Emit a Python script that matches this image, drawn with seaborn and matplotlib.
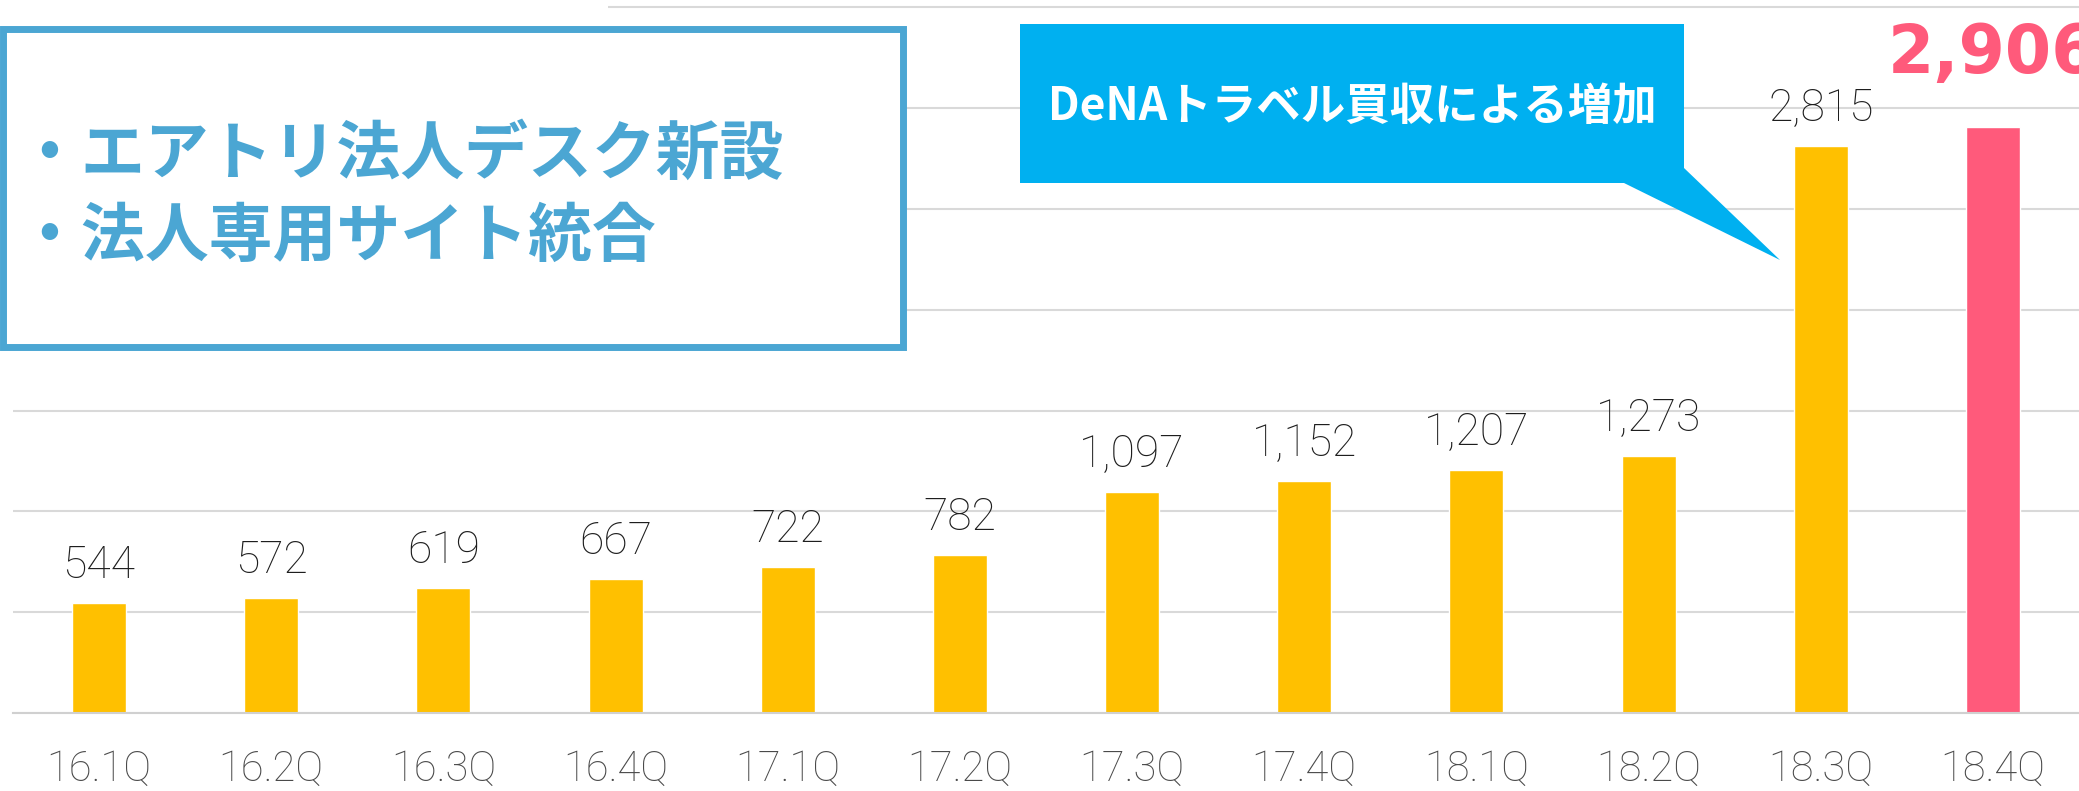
import numpy as np
import pandas as pd
import matplotlib
matplotlib.use("Agg")
import matplotlib.pyplot as plt
from matplotlib.patches import Rectangle, Polygon
import seaborn as sns

quarters = ["16.1Q", "16.2Q", "16.3Q", "16.4Q", "17.1Q", "17.2Q",
            "17.3Q", "17.4Q", "18.1Q", "18.2Q", "18.3Q", "18.4Q"]
users = [544, 572, 619, 667, 722, 782, 1097, 1152, 1207, 1273, 2815, 2906]
bar_colors = ["#FFC000"] * 11 + ["#FF5A7B"]
box_lines = ["・エアトリ法人デスク新設", "・法人専用サイト統合"]
callout_text = "DeNAトラベル買収による増加"

sns.set_theme(style="white")
plt.rcParams['font.family'] = ['Noto Sans CJK JP', 'DejaVu Sans']

W, H = 2079, 791
fig = plt.figure(figsize=(W / 100, H / 100), dpi=100)
fig.patch.set_facecolor("white")
ax = fig.add_axes([13 / W, 78 / H, 1 - 13 / W, 713 / H])

df = pd.DataFrame({"quarter": quarters, "users": users})
sns.barplot(data=df, x="quarter", y="users", hue="quarter",
            palette=dict(zip(quarters, bar_colors)), dodge=False,
            width=0.314, saturation=1, legend=False, ax=ax)

ax.set_xlim(-0.5, 11.5)
ax.set_ylim(0, 3537)
ax.set_yticks(np.arange(0, 3501, 500))
ax.yaxis.grid(True, color="#D9D9D9", lw=1.5)
ax.xaxis.grid(False)
ax.set_axisbelow(True)
ax.set_xlabel("")
ax.set_ylabel("")
for s in ["left", "top", "right"]:
    ax.spines[s].set_visible(False)
ax.spines["bottom"].set_color("#D0D0D0")
ax.spines["bottom"].set_linewidth(1.5)
ax.tick_params(axis="y", length=0, labelleft=False)
ax.set_xticks(range(len(quarters)))
ax.set_xticklabels(quarters, fontsize=30, color="#4A4A4A",
                   family=["Roboto", "DejaVu Sans"], fontweight="light")
ax.tick_params(axis="x", which="major", length=0, pad=26)
ax.set_xticks(np.arange(-0.5, len(quarters), 1), minor=True)
ax.tick_params(axis="x", which="minor", length=11, width=1.5,
               color="#D0D0D0", direction="out")

for i, v in enumerate(users[:-1]):
    ax.annotate(f"{v:,}", (i, v), xytext=(0, 18), textcoords="offset points",
                ha="center", va="baseline", fontsize=32, color="#1E1E1E",
                family=["Roboto", "DejaVu Sans"], fontweight="light")
ax.annotate(f"{users[-1]:,}", (len(users) - 1, users[-1]), xytext=(0, 39),
            textcoords="offset points", ha="center", va="baseline",
            fontsize=48, color=bar_colors[-1], family=["DejaVu Sans"],
            fontweight="bold", annotation_clip=False)

def fx(x):
    return x / W

def fy(y):
    return 1 - y / H

# cover top gridline where the (cut-off) title sits
fig.add_artist(Rectangle((0, fy(22)), fx(608), 22 / H, transform=fig.transFigure,
                         facecolor="white", edgecolor="none", zorder=5))

# left info box
fig.add_artist(Rectangle((fx(3), fy(347)), fx(900), (347 - 29) / H,
                         transform=fig.transFigure, facecolor="white",
                         edgecolor="#4BA6D3", lw=5, zorder=5))
for k, line in enumerate(box_lines):
    fig.text(fx(17), fy(155 + 82 * k), line, ha="left", va="center",
             fontsize=46, fontweight="bold", color="#4BA6D3", zorder=6)

# callout
pts = [(1020, 24), (1684, 24), (1684, 168), (1780, 260), (1624, 183), (1020, 183)]
fig.add_artist(Polygon([(fx(x), fy(y)) for x, y in pts], closed=True,
                       transform=fig.transFigure, facecolor="#00B0F0",
                       edgecolor="none", zorder=5))
fig.text(fx(1352), fy(107), callout_text, ha="center", va="center",
         fontsize=32, fontweight="bold", color="white", zorder=6)

fig.savefig("out.png", dpi=100)
